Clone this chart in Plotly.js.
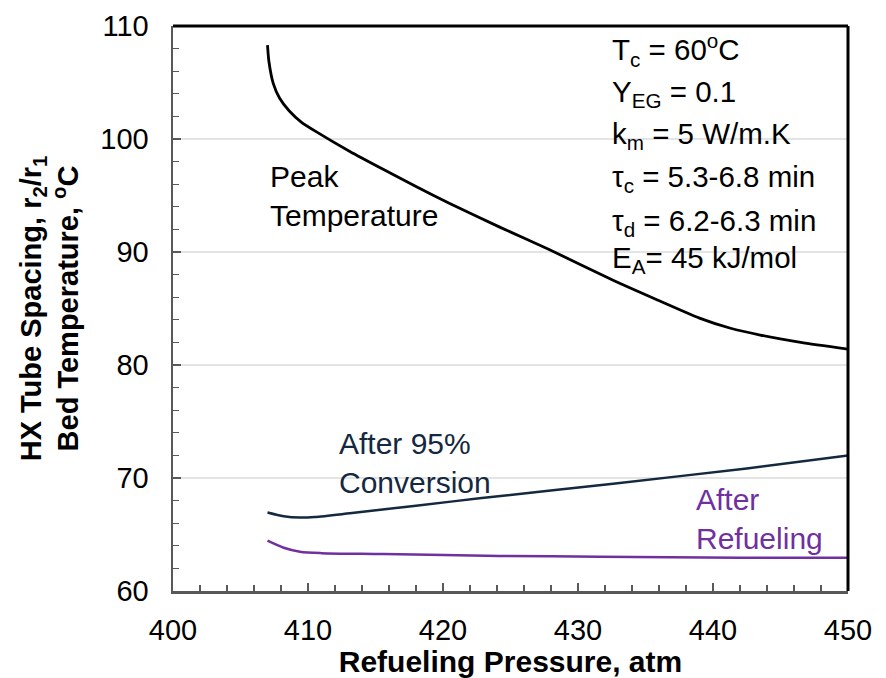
<!DOCTYPE html>
<html>
<head>
<meta charset="utf-8">
<script src="https://cdn.plot.ly/plotly-3.0.1.min.js"></script>
<style>html,body{margin:0;padding:0;background:#fff;}#chart{width:886px;height:678px;}</style>
</head>
<body>
<div id="chart"></div>
<script>
// Peak bed temperature
var peakPressure = [407.0, 407.1, 407.43, 407.9, 408.6, 409.5, 410.6, 413.1, 415.6, 418.0, 420.5, 424.2, 427.9, 432.6, 435.8, 439.0, 441.3, 443.5, 446.5, 450.0];
var peakTemp     = [108.3, 106.9, 104.9, 103.6, 102.5, 101.5, 100.65, 98.9, 97.3, 95.8, 94.3, 92.2, 90.2, 87.5, 85.8, 84.15, 83.25, 82.65, 82.0, 81.4];
// Bed temperature after 95% conversion
var convPressure = [407.0, 408.2, 409.4, 410.5, 413.1, 418.0, 422.7, 432.6, 442.5, 450.0];
var convTemp     = [66.95, 66.62, 66.5, 66.55, 66.88, 67.55, 68.2, 69.5, 70.85, 72.0];
// Bed temperature after refueling
var refPressure  = [407.0, 408.2, 409.4, 411.0, 415.6, 424.2, 431.6, 442.0, 450.0];
var refTemp      = [64.45, 63.83, 63.48, 63.35, 63.27, 63.1, 63.04, 62.95, 62.95];
// Axis ticks
var xTicks = [400, 410, 420, 430, 440, 450];
var yTicks = [60, 70, 80, 90, 100, 110];
// Parameter labels
var paramLabels = [
  "T<sub>c</sub> = 60<sup>o</sup>C",
  "Y<sub>EG</sub> = 0.1",
  "k<sub>m</sub> = 5 W/m.K",
  "\u03c4<sub>c</sub> = 5.3-6.8 min",
  "\u03c4<sub>d</sub> = 6.2-6.3 min",
  "E<sub>A</sub>= 45 kJ/mol"
];
var paramY = [107.9, 104.0, 100.3, 96.5, 92.6, 89.3];

var FONT = "Liberation Sans, Arial, sans-serif";
var NAVY = "#142840";
var PURPLE = "#7030a0";

var traces = [
  {x: peakPressure, y: peakTemp, mode: "lines", line: {color: "#000000", width: 2.8, shape: "spline", smoothing: 0.6}, name: "Peak Temperature"},
  {x: convPressure, y: convTemp, mode: "lines", line: {color: NAVY, width: 2.5, shape: "spline", smoothing: 0.8}, name: "After 95% Conversion"},
  {x: refPressure, y: refTemp, mode: "lines", line: {color: PURPLE, width: 2.5, shape: "spline", smoothing: 0.8}, name: "After Refueling"}
];

var annotations = [
  {x: 0.14, xref: "paper", y: 91.6, yref: "y", xanchor: "left", yanchor: "bottom", align: "left", showarrow: false,
   text: "Peak<br>Temperature", font: {family: FONT, size: 30, color: "#000"}},
  {x: 0.243, xref: "paper", y: 68.0, yref: "y", xanchor: "left", yanchor: "bottom", align: "left", showarrow: false,
   text: "After 95%<br>Conversion", font: {family: FONT, size: 30, color: NAVY}},
  {x: 0.772, xref: "paper", y: 63.0, yref: "y", xanchor: "left", yanchor: "bottom", align: "left", showarrow: false,
   text: "After<br>Refueling", font: {family: FONT, size: 30, color: PURPLE}}
];
paramLabels.forEach(function (t, i) {
  annotations.push({x: 0.648, xref: "paper", y: paramY[i], yref: "y", xanchor: "left", yanchor: "middle", align: "left",
    showarrow: false, text: t, font: {family: FONT, size: 29.5, color: "#000"}});
});

var layout = {
  width: 886, height: 678,
  paper_bgcolor: "#ffffff", plot_bgcolor: "#ffffff",
  margin: {l: 173, r: 38, t: 26, b: 87, pad: 0},
  showlegend: false,
  font: {family: FONT, color: "#000"},
  xaxis: {
    range: [400, 450], tickvals: xTicks, ticktext: xTicks.map(String),
    ticks: "inside", ticklen: 8, tickwidth: 1.5, tickcolor: "#595959",
    showline: true, linecolor: "#595959", linewidth: 2.5,
    showgrid: false, zeroline: false,
    tickfont: {family: FONT, size: 29, color: "#000"},
    ticklabelstandoff: 12,
    minor: {dtick: 2, ticks: "inside", ticklen: 6, tickwidth: 1.2, tickcolor: "#595959", showgrid: false},
    title: {text: "<b>Refueling Pressure, atm</b>", font: {family: FONT, size: 30, color: "#000"}, standoff: 6}
  },
  yaxis: {
    range: [60, 110], tickvals: yTicks, ticktext: yTicks.map(String),
    ticks: "inside", ticklen: 8, tickwidth: 1.5, tickcolor: "#595959",
    showline: true, linecolor: "#595959", linewidth: 2.5,
    showgrid: true, gridcolor: "#e4e4e4", gridwidth: 1.2, zeroline: false,
    tickfont: {family: FONT, size: 29, color: "#000"},
    ticklabelstandoff: 16,
    minor: {dtick: 2, ticks: "inside", ticklen: 6, tickwidth: 1.2, tickcolor: "#595959", showgrid: false},
    title: {text: "<b>HX Tube Spacing, r<sub>2</sub>/r<sub>1</sub><br>Bed Temperature, <sup>o</sup>C</b>", font: {family: FONT, size: 29, color: "#000"}, standoff: 13}
  },
  shapes: [
    {type: "line", xref: "paper", yref: "paper", x0: 0, x1: 1, y0: 1, y1: 1, line: {color: "#000", width: 3}},
    {type: "line", xref: "paper", yref: "paper", x0: 1, x1: 1, y0: 0, y1: 1, line: {color: "#000", width: 3}}
  ],
  annotations: annotations
};

Plotly.newPlot("chart", traces, layout, {staticPlot: true, displayModeBar: false});
</script>
</body>
</html>
